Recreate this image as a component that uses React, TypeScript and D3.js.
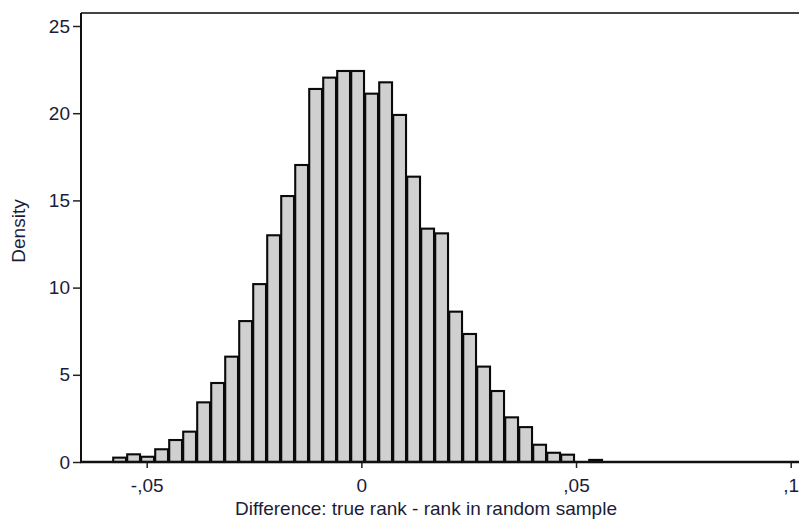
import React, { useEffect, useRef } from "react";
import * as d3 from "d3";

// histogram of the difference, density per bin
const binStart = -0.0578;
const binWidth = 0.003261;
const densities = [
  0.25, 0.44, 0.3, 0.73, 1.26, 1.74, 3.42, 4.53, 6.04, 8.08, 10.2, 13.0, 15.25,
  17.03, 21.39, 22.04, 22.42, 22.42, 21.12, 21.77, 19.9, 16.36, 13.38, 13.11,
  8.62, 7.34, 5.47, 4.07, 2.56, 2.0, 0.99, 0.53, 0.42, 0, 0.12,
];
const xTicks = [-0.05, 0, 0.05, 0.1];
const xTickLabels = ["-,05", "0", ",05", ",1"];
const yTicks = [0, 5, 10, 15, 20, 25];

const textColor = "#1c1c38";
const font = "Arial, 'Liberation Sans', sans-serif";
const fontSize = 19;

const App = () => {
  const ref = useRef<SVGSVGElement>(null);

  useEffect(() => {
    const svg = d3.select(ref.current);
    svg.selectAll("*").remove();

    const left = 81;
    const top = 13;
    const bottom = 462;
    const right = 799;

    const x = d3.scaleLinear().domain([-0.05, 0.1]).range([146.7, 790.7]);
    const y = d3.scaleLinear().domain([0, 25]).range([bottom, 26]);

    const bins = densities
      .map((d, i) => ({ x0: binStart + i * binWidth, d }))
      .filter((b) => b.d > 0);

    // bars
    svg
      .append("g")
      .selectAll("rect")
      .data(bins)
      .join("rect")
      .attr("x", (b) => x(b.x0))
      .attr("width", x(binWidth) - x(0) - 1.2)
      .attr("y", (b) => y(b.d))
      .attr("height", (b) => y(0) - y(b.d))
      .attr("fill", "#d0d0d0")
      .attr("stroke", "#0a0a0a")
      .attr("stroke-width", 2.1);

    // frame: top line, left axis, bottom axis
    svg
      .append("line")
      .attr("x1", left)
      .attr("x2", right)
      .attr("y1", top)
      .attr("y2", top)
      .attr("stroke", "#444")
      .attr("stroke-width", 2);

    const yAxis = svg
      .append("g")
      .attr("transform", `translate(${left},0)`)
      .call(d3.axisLeft(y).tickValues(yTicks).tickSize(8).tickPadding(3).tickSizeOuter(0));
    yAxis.select(".domain").remove();
    yAxis
      .append("line")
      .attr("y1", top)
      .attr("y2", bottom + 1)
      .attr("stroke", "#111")
      .attr("stroke-width", 2);

    const xAxis = svg
      .append("g")
      .attr("transform", `translate(0,${bottom})`)
      .call(
        d3
          .axisBottom(x)
          .tickValues(xTicks)
          .tickFormat((d, i) => xTickLabels[i])
          .tickSize(6)
          .tickPadding(11)
      );
    xAxis.select(".domain").remove();
    xAxis
      .append("line")
      .attr("x1", left - 1)
      .attr("x2", right)
      .attr("stroke", "#111")
      .attr("stroke-width", 2.5);

    svg
      .selectAll(".tick line")
      .attr("stroke", "#222")
      .attr("stroke-width", 1.5);
    svg
      .selectAll(".tick text")
      .attr("fill", textColor)
      .attr("font-family", font)
      .attr("font-size", fontSize);

    // axis titles
    svg
      .append("text")
      .attr("transform", `translate(25,231) rotate(-90)`)
      .attr("text-anchor", "middle")
      .attr("fill", textColor)
      .attr("font-family", font)
      .attr("font-size", fontSize)
      .text("Density");

    svg
      .append("text")
      .attr("x", 426)
      .attr("y", 515)
      .attr("text-anchor", "middle")
      .attr("fill", textColor)
      .attr("font-family", font)
      .attr("font-size", fontSize)
      .text("Difference: true rank - rank in random sample");
  }, []);

  return (
    <svg
      ref={ref}
      width={799}
      height={519}
      style={{ position: "absolute", left: 0, top: 0, background: "#fff" }}
    />
  );
};

export default App;
